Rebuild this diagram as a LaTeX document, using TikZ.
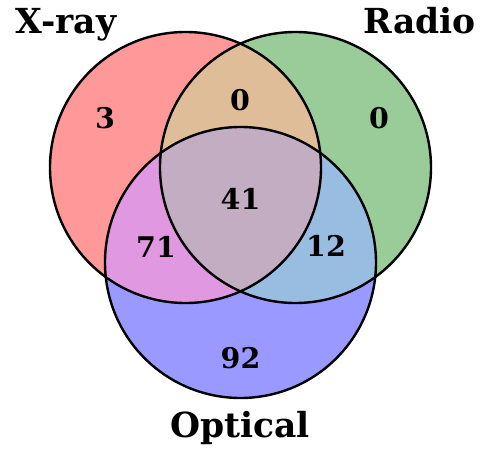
\documentclass[tikz,border=0pt]{standalone}
\usepackage{fontspec}
\setmainfont{DejaVu Serif}
\definecolor{xonly}{HTML}{FF9999}
\definecolor{ronly}{HTML}{99CC99}
\definecolor{oonly}{HTML}{9999FF}
\definecolor{xrboth}{HTML}{E0BD99}
\definecolor{xoboth}{HTML}{E099E0}
\definecolor{roboth}{HTML}{99BDE0}
\definecolor{allthree}{HTML}{C2ADC2}
\newcommand{\vennr}{135.5pt}

\begin{document}
\begin{tikzpicture}[x=1pt,y=-1pt,font=\bfseries\fontsize{28.5}{30}\selectfont,
  rim/.style={draw=black,line width=2.4pt},
  count/.style={anchor=center,inner sep=0pt},
  setname/.style={anchor=base,inner sep=0pt,font=\bfseries\fontsize{34.5}{36}\selectfont}]
\useasboundingbox (0,0) rectangle (483,449);
\coordinate (xr) at (185.5,167.5);
\coordinate (ra) at (295.5,167.5);
\coordinate (op) at (240.5,262.5);
% single sets
\fill[xonly] (xr) circle[radius=\vennr];
\fill[ronly] (ra) circle[radius=\vennr];
\fill[oonly] (op) circle[radius=\vennr];
% overlaps
\begin{scope}
\clip (xr) circle[radius=\vennr];
\fill[xrboth] (ra) circle[radius=\vennr];
\fill[xoboth] (op) circle[radius=\vennr];
\end{scope}
\begin{scope}
\clip (ra) circle[radius=\vennr];
\fill[roboth] (op) circle[radius=\vennr];
\end{scope}
\begin{scope}
\clip (xr) circle[radius=\vennr];
\clip (ra) circle[radius=\vennr];
\fill[allthree] (op) circle[radius=\vennr];
\end{scope}
\draw[rim] (xr) circle[radius=\vennr];
\draw[rim] (ra) circle[radius=\vennr];
\draw[rim] (op) circle[radius=\vennr];
% counts
\node[count] (nx) at (105,118) {3};
\node[count] (nxr) at (240,100) {0};
\node[count] (nr) at (379,118) {0};
\node[count] (nxro) at (240.5,198.5) {41};
\node[count] (nxo) at (156,246.5) {71};
\node[count] (nro) at (326,246) {12};
\node[count] (no) at (240.5,358.5) {92};
% set names
\node[setname] (lx) at (66,33.5) {X-ray};
\node[setname] (lr) at (420,33.5) {Radio};
\node[setname] (lo) at (240,438) {Optical};
\end{tikzpicture}
\end{document}
